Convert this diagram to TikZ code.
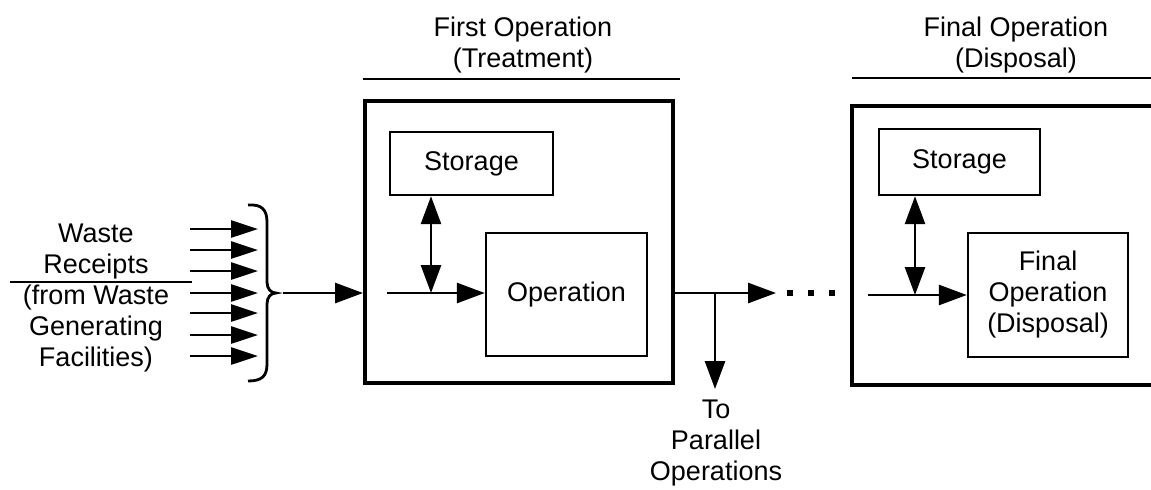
\documentclass[tikz,border=0pt]{standalone}
\usepackage{fontspec}
\setmainfont{Liberation Sans}
\usetikzlibrary{arrows.meta,fit}

\begin{document}
\begin{tikzpicture}[x=0.5pt,y=-0.5pt,
  txt/.style={font=\fontsize{13.5}{15.5}\selectfont},
  bigbox/.style={draw, line width=2pt, inner sep=0pt},
  smallbox/.style={draw, line width=1.2pt, inner sep=0pt},
  lbl/.style={align=center, inner sep=0pt, txt},
  arr/.style={line width=1.4pt, -{Triangle[length=14pt,width=10pt]}},
  darr/.style={line width=1.4pt, {Triangle[length=14pt,width=10pt]}-{Triangle[length=14pt,width=10pt]}},
  inarr/.style={line width=1.4pt, -{Triangle[length=13.5pt,width=8.5pt]}},
  rule/.style={line width=1pt},
  dot/.style={fill, minimum size=3pt, inner sep=0pt}
]
\useasboundingbox (0,0) rectangle (1151,489);
\clip (0,0) rectangle (1151,489);

% ---------- incoming waste receipts ----------
\node[lbl] (src) at (96,298) {Waste\\Receipts\\(from Waste\\Generating\\Facilities)};
\draw[rule] (10,282) -- (192,282);

\foreach \i/\y in {0/229,1/250,2/271,3/293,4/313,5/335,6/356}{
  \coordinate (s\i) at (190,\y);
  \coordinate (t\i) at (258,\y);
  \draw[inarr] (s\i) -- (t\i);
}

% brace gathering the receipts
\coordinate (bt) at (276,293);
\draw[line width=1.4pt]
  (248,205) .. controls (262,204) and (267,210) .. (267,222)
  -- (267,282) .. controls (267,289) and (271,293) .. (bt)
  .. controls (271,293) and (267,297) .. (267,304)
  -- (267,364) .. controls (267,376) and (262,381) .. (248,381);

% ---------- first operation ----------
\node[lbl] (title1) at (523,45) {First Operation\\(Treatment)};
\draw[rule] (363,79) -- (680,79);

\node[bigbox, fit={(365,101) (673,383)}] (box1) {};
\node[smallbox, fit={(390,132) (553,195)}] (store1) {};
\node[lbl] (store1txt) at (store1.center) {Storage};
\node[smallbox, fit={(486,233) (647,356)}] (op1) {};
\node[lbl] (op1txt) at (op1.center) {Operation};

\coordinate (bin) at (283,293);
\draw[arr] (bin) -- (bin -| box1.west);

\coordinate (j1) at (387,293);
\coordinate (v1) at (431,293);
\draw[arr] (j1) -- (j1 -| op1.west);
\draw[darr] (v1 |- store1.south) -- (v1);

% ---------- output and branch ----------
\coordinate (out) at (776,293);
\coordinate (br) at (715,293);
\coordinate (brend) at (715,389);
\draw[arr] (out -| box1.east) -- (out);
\draw[arr] (br) -- (brend);
\node[lbl] (par) at (716,443) {To\\Parallel\\Operations};

\node[dot] (d1) at (790,293) {};
\node[dot] (d2) at (811,293) {};
\node[dot] (d3) at (832,293) {};

% ---------- final operation ----------
\node[lbl] (title2) at (1016,45) {Final Operation\\(Disposal)};
\draw[rule] (852,78) -- (1160,78);

\node[bigbox, fit={(852,106) (1200,385)}] (box2) {};
\node[smallbox, fit={(879,129) (1040,195)}] (store2) {};
\node[lbl] (store2txt) at (store2.center) {Storage};
\node[smallbox, fit={(968,233) (1128,357)}] (op2) {};
\node[lbl] (op2txt) at (op2.center) {Final\\Operation\\(Disposal)};

\coordinate (j2) at (868,295);
\coordinate (v2) at (915,295);
\draw[arr] (j2) -- (j2 -| op2.west);
\draw[darr] (v2 |- store2.south) -- (v2);
\end{tikzpicture}
\end{document}
